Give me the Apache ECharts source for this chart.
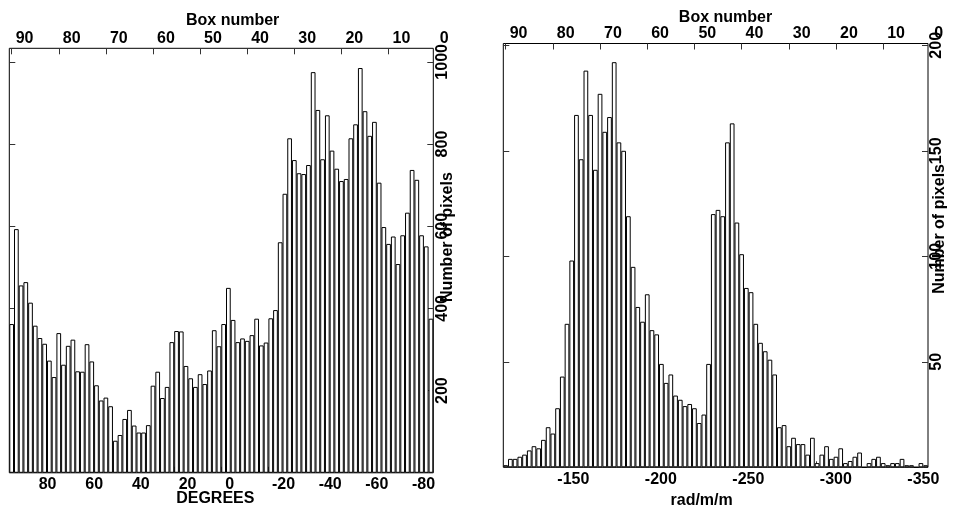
<!DOCTYPE html>
<html>
<head>
<meta charset="utf-8">
<script src="https://cdn.jsdelivr.net/npm/echarts@6/dist/echarts.min.js"></script>
<style>
html,body{margin:0;padding:0;background:#fff;}
#chart{width:955px;height:511px;}
</style>
</head>
<body>
<div id="chart"></div>
<script>
// ---- data ----
const boxCategories = [90,89,88,87,86,85,84,83,82,81,80,79,78,77,76,75,74,73,72,71,70,69,68,67,66,65,64,63,62,61,60,59,58,57,56,55,54,53,52,51,50,49,48,47,46,45,44,43,42,41,40,39,38,37,36,35,34,33,32,31,30,29,28,27,26,25,24,23,22,21,20,19,18,17,16,15,14,13,12,11,10,9,8,7,6,5,4,3,2,1];

const leftCounts = [362,593,456,464,414,358,328,314,273,233,
  340,263,309,324,247,246,313,271,213,176,
  183,162,78,92,131,153,115,98,98,116,
  212,246,182,209,318,345,344,260,230,209,
  240,216,249,347,308,362,450,372,318,327,
  321,335,375,310,317,376,396,561,679,814,
  761,729,727,749,975,883,763,870,784,740,
  710,715,814,848,985,880,820,854,706,598,
  557,575,508,578,633,737,713,578,551,375];

const rightCounts = [1,4,4,5,6,8,10,9,13,19,
  16,28,43,68,98,167,146,188,167,141,
  177,159,166,192,154,150,119,95,76,69,
  82,65,63,49,40,44,34,32,29,30,
  28,21,25,49,120,122,119,154,163,116,
  101,85,83,68,59,55,51,44,19,20,
  10,14,11,11,6,14,2,6,10,4,
  5,9,2,3,5,7,0,2,4,5,
  2,1,2,2,4,1,1,0,2,1];

const degreeTicks = [80,60,40,20,0,-20,-40,-60,-80];
const rmTicks = [-150,-200,-250,-300,-350];
const boxTicks = [90,80,70,60,50,40,30,20,10];
const boxLabels = [90,80,70,60,50,40,30,20,10,0];
const leftYTicks = [200,400,600,800,1000];
const rightYTicks = [50,100,150,200];

// ---- chart ----
const FONT = {fontFamily:'Liberation Sans, Arial, sans-serif', fontWeight:'bold', fontSize:16, color:'#000'};
const tickStyle = {color:'#333', width:1};
const plain = v => String(v);

function plotGrid(left, top, width, height){
  return {left, top, width, height, show:true, borderColor:'#000', borderWidth:1,
          backgroundColor:'transparent', containLabel:false, outerBoundsMode:'none'};
}
function axisGrid(left, top, width, height){
  return {left, top, width, height, show:false, containLabel:false, outerBoundsMode:'none'};
}

// panel geometry
const L1 = 9.3, T1 = 48.3, W1 = 424, H1 = 424.5;
const L2 = 503.3, T2 = 43.5, W2 = 424.7, H2 = 423.8;
const bw1 = W1 / boxCategories.length, bw2 = W2 / boxCategories.length;

function bottomValueAxis(gridIndex, min, max, ticks, name, namePad, nameGap){
  return {type:'value', gridIndex, position:'bottom', min, max, inverse:true,
    axisLine:{show:false, onZero:false}, splitLine:{show:false},
    axisTick:{show:true, inside:true, length:6, customValues:ticks, lineStyle:tickStyle},
    axisLabel:Object.assign({show:true, customValues:ticks, margin:4, align:'left', padding:[0,0,0,4], formatter:plain}, FONT),
    name, nameLocation:'middle', nameGap, nameMoveOverlap:false,
    nameTextStyle:Object.assign({padding:namePad}, FONT)};
}
function topBoxAxis(gridIndex, namePad, nameGap){
  return {type:'value', gridIndex, position:'top', min:0, max:90, inverse:true,
    axisLine:{show:false, onZero:false}, splitLine:{show:false},
    axisTick:{show:true, inside:true, length:6, customValues:boxTicks, lineStyle:tickStyle},
    axisLabel:Object.assign({show:true, customValues:boxLabels, margin:2, align:'left', padding:[0,0,0,4], formatter:plain}, FONT),
    name:'Box number', nameLocation:'middle', nameGap, nameMoveOverlap:false,
    nameTextStyle:Object.assign({padding:namePad}, FONT)};
}
function rightCountAxis(gridIndex, max, ticks, namePad, nameGap){
  return {type:'value', gridIndex, position:'right', min:0, max,
    axisLine:{show:false, onZero:false}, splitLine:{show:false},
    axisTick:{show:true, inside:true, length:6, customValues:ticks, lineStyle:tickStyle},
    axisLabel:Object.assign({show:true, customValues:ticks, rotate:90, margin:1, formatter:plain}, FONT),
    name:'Number of pixels', nameLocation:'middle', nameRotate:90, nameGap, nameMoveOverlap:false,
    nameTextStyle:Object.assign({padding:namePad}, FONT)};
}
function leftCountAxis(gridIndex, max, ticks){
  return {type:'value', gridIndex, position:'left', min:0, max,
    axisLine:{show:false, onZero:false}, splitLine:{show:false},
    axisTick:{show:true, inside:true, length:6, customValues:ticks, lineStyle:tickStyle},
    axisLabel:{show:false}};
}
const barStyle = {color:'#fff', borderColor:'#000', borderWidth:1};

const option = {
  animation:false,
  backgroundColor:'#fff',
  textStyle:FONT,
  grid:[
    plotGrid(L1, T1, W1, H1),
    axisGrid(L1 + bw1/2, T1, bw1*90, H1),
    plotGrid(L2, T2, W2, H2),
    axisGrid(L2 + bw2/2, T2, bw2*90, H2)
  ],
  xAxis:[
    {type:'category', gridIndex:0, data:boxCategories, show:false, boundaryGap:true, axisLine:{onZero:false}},
    bottomValueAxis(0, -90.86, 90.86, degreeTicks, 'DEGREES', [0,12,0,0], 18),
    topBoxAxis(1, [0,0,0,18], 20),
    {type:'category', gridIndex:2, data:boxCategories, show:false, boundaryGap:true, axisLine:{onZero:false}},
    bottomValueAxis(2, -364.1, -121.4, rmTicks, 'rad/m/m', [0,28,0,0], 25),
    topBoxAxis(3, [0,0,0,15], 18)
  ],
  yAxis:[
    rightCountAxis(0, 1033, leftYTicks, [0,0,0,47], 6),
    leftCountAxis(0, 1033, leftYTicks),
    {type:'value', gridIndex:1, show:false, min:0, max:1, axisLine:{onZero:false}},
    rightCountAxis(2, 200.85, rightYTicks, [0,0,0,53], 4),
    leftCountAxis(2, 200.85, rightYTicks),
    {type:'value', gridIndex:3, show:false, min:0, max:1, axisLine:{onZero:false}}
  ],
  series:[
    {type:'bar', xAxisIndex:0, yAxisIndex:0, data:leftCounts, barCategoryGap:'0%', itemStyle:barStyle, silent:true},
    {type:'bar', xAxisIndex:3, yAxisIndex:3, data:rightCounts, barCategoryGap:'0%', itemStyle:barStyle, silent:true}
  ]
};

const chart = echarts.init(document.getElementById('chart'), null, {renderer:'canvas'});
chart.setOption(option);
</script>
</body>
</html>
